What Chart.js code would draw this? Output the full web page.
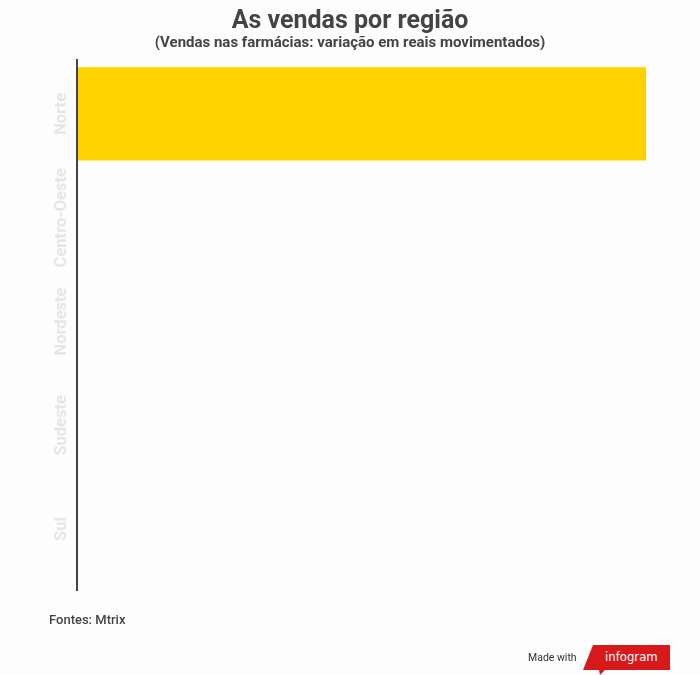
<!DOCTYPE html>
<html>
<head>
<meta charset="utf-8">
<script src="https://cdn.jsdelivr.net/npm/chart.js@4"></script>
<style>
  body { margin: 0; background: #fdfdfd; font-family: Roboto, sans-serif; }
  #wrap { position: relative; width: 700px; height: 675px; }
  #fontes { position: absolute; left: 49px; top: 612px; font-size: 13px; font-weight: 500; color: #444; }
  #made { position: absolute; left: 528px; top: 651px; font-size: 10.5px; color: #333; }
  #badge { position: absolute; left: 583px; top: 645px; width: 87px; height: 30px; background: #d7191c;
           clip-path: polygon(10px 0, 87px 0, 87px 25px, 22px 25px, 17px 30px, 16px 25px, 0 25px); }
  #badge span { position: absolute; left: 22px; top: 4px; font-size: 13px; color: #fff; font-family: "DejaVu Sans Condensed", sans-serif; }
</style>
</head>
<body>
<div id="wrap">
  <canvas id="myChart" width="700" height="675"></canvas>
  <div id="fontes">Fontes: Mtrix</div>
  <div id="made">Made with</div>
  <div id="badge"><span>infogram</span></div>
</div>
<script>
let regioes = ['Norte', 'Centro-Oeste', 'Nordeste', 'Sudeste', 'Sul'];
let vendas = [1, null, null, null, null];

// draws rotated category labels and the left axis line
const axisLabels = {
    id: 'axisLabels',
    afterDraw(chart) {
        let ctx = chart.ctx;
        let y = chart.scales.y;
        let area = chart.chartArea;
        ctx.save();
        ctx.strokeStyle = '#444';
        ctx.lineWidth = 2;
        ctx.beginPath();
        ctx.moveTo(area.left - 1, area.top - 3);
        ctx.lineTo(area.left - 1, area.bottom + 10);
        ctx.stroke();
        ctx.fillStyle = '#e6e6e6';
        ctx.font = 'bold 16.5px Roboto';
        ctx.textAlign = 'center';
        ctx.textBaseline = 'middle';
        for (let i = 0; i < regioes.length; i++) {
            ctx.save();
            ctx.translate(62, y.getPixelForValue(i));
            ctx.rotate(-Math.PI / 2);
            ctx.fillText(regioes[i], 0, 0);
            ctx.restore();
        }
        ctx.restore();
    }
};

var chart = new Chart(document.getElementById('myChart'), {
    type: 'bar',
    data: {
        labels: regioes,
        datasets: [{
            data: vendas,
            backgroundColor: '#ffd200',
            categoryPercentage: 1,
            barPercentage: 0.9,
        }]
    },
    options: {
        indexAxis: 'y',
        responsive: false,
        animation: false,
        layout: { padding: { left: 54, right: 54, bottom: 94, top: 0 } },
        scales: {
            x: { display: false, min: 0, max: 1 },
            y: {
                display: true,
                ticks: { display: false },
                grid: { display: false },
                border: { display: false },
                afterFit(scale) { scale.width = 24; }
            }
        },
        plugins: {
            legend: { display: false },
            tooltip: { enabled: false },
            title: {
                display: true,
                text: 'As vendas por região',
                color: '#444',
                font: { family: 'Roboto', size: 25, weight: 'bold' },
                padding: { top: 7, bottom: -3 }
            },
            subtitle: {
                display: true,
                text: '(Vendas nas farmácias: variação em reais movimentados)',
                color: '#444',
                font: { family: 'Roboto', size: 15, weight: 'bold' },
                padding: { top: 0, bottom: 10 }
            }
        }
    },
    plugins: [axisLabels]
});
</script>
</body>
</html>
